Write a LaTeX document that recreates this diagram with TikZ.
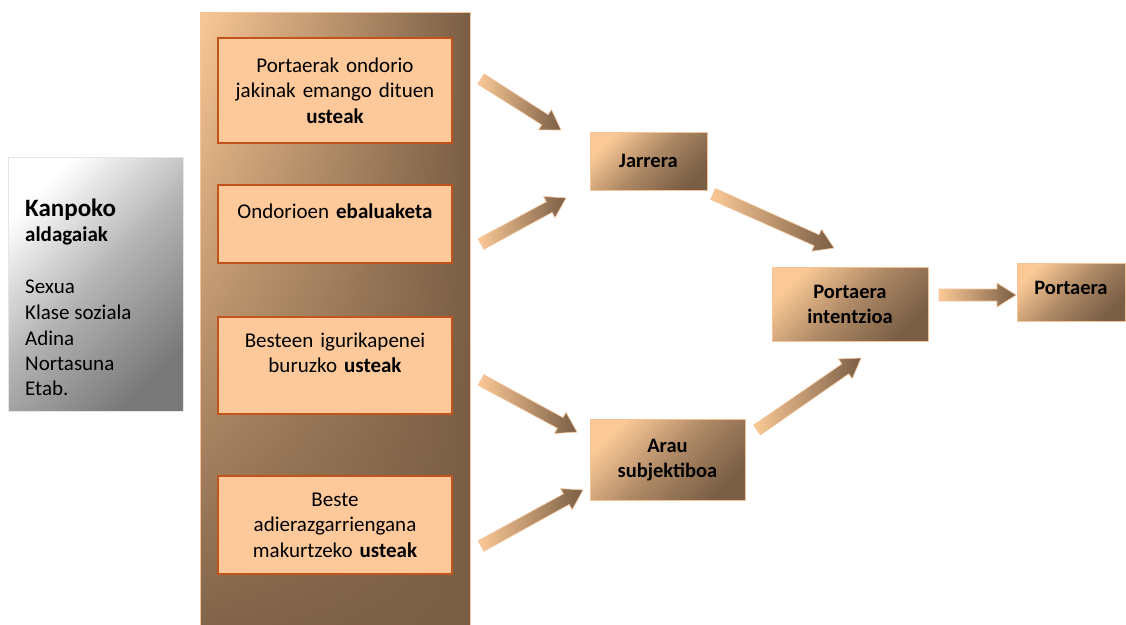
\documentclass[tikz,border=0pt]{standalone}
\usepackage{fontspec}
\setmainfont{Carlito}
\usetikzlibrary{calc,fadings}

\definecolor{peach}{HTML}{FBC996}
\definecolor{umber}{HTML}{7A5E45}
\definecolor{boxfill}{HTML}{FDC99A}
\definecolor{boxline}{HTML}{C0541C}
\definecolor{rim}{HTML}{F6C49A}

\tikzfading[name=fadedown, top color=transparent!100, middle color=transparent!70, bottom color=transparent!5]

% thick shaded block arrow from a named tail point to a named tip point
\newcommand\blockarrow[3]{%
  \path let \p1=($(#3)-(#2)$) in \pgfextra{%
    \pgfmathsetmacro\arrang{atan2(\y1,\x1)}\global\let\arrang\arrang
    \pgfmathsetmacro\arrlen{veclen(\x1,\y1)}\global\let\arrlen\arrlen};
  \begin{scope}[shift={(#2)}, rotate=\arrang]
    \path[flowarrow] (0,-6) -- (\arrlen-19,-6) -- (\arrlen-19,-12) -- (\arrlen,0)
      -- (\arrlen-19,12) -- (\arrlen-19,6) -- (0,6) -- cycle;
    \coordinate (#1) at (\arrlen/2,0);
  \end{scope}}

\begin{document}
\begin{tikzpicture}[x=1pt, y=-1pt,
  font=\fontsize{21}{25.5}\selectfont,
  ibox/.style={draw=boxline, line width=1.3pt, fill=boxfill,
    minimum width=234pt, text width=224pt, align=center, inner sep=0pt},
  gbox/.style={draw=rim, line width=0.8pt, shading=axis, top color=peach,
    bottom color=umber, middle color=umber!60!peach, shading angle=45,
    font=\fontsize{20.5}{25}\selectfont\bfseries, align=center, inner sep=0pt},
  flowarrow/.style={left color=peach, right color=umber, draw=rim, line width=0.6pt},
  listline/.style={anchor=base west, inner sep=0pt}]

\useasboundingbox (0,0) rectangle (1126,624);
\fill[white] (0,0) rectangle (1126,624);

% external variables panel
\node[draw=gray!20, line width=1pt, shading=axis, top color=white,
  bottom color=gray!95!black, middle color=gray!60, shading angle=45,
  minimum width=175pt, minimum height=254pt, inner sep=0pt] (ext) at (95.5,284) {};
\node[listline, font=\fontsize{25}{27}\selectfont\bfseries] (extA) at (25,216) {Kanpoko};
\node[listline, font=\fontsize{21}{25}\selectfont\bfseries] (extB) at (25,241) {aldagaiak};
\foreach \t/\yy [count=\i] in {Sexua/293.5, Klase soziala/319.5, Adina/345, Nortasuna/370.5, Etab./395.5}
  \node[listline] (ext\i) at (25,\yy) {\t};

% belief column
\path[left color=peach, right color=umber] (200,12) rectangle (470,630);
\fill[umber, path fading=fadedown] (200,12) rectangle (470,630);
\draw[rim, line width=1pt] (200,630) -- (200,12) -- (470,12) -- (470,630);

\node[ibox, minimum height=105pt] (b1) at (335,90.5)
  {Portaerak ondorio\\ jakinak emango dituen\\ \textbf{usteak}};
\node[ibox, minimum height=78pt] (b2) at (335,224)
  {Ondorioen \textbf{ebaluaketa}\\ ~};
\node[ibox, minimum height=97pt] (b3) at (335,365.5)
  {Besteen igurikapenei\\ buruzko \textbf{usteak}\\ ~};
\node[ibox, minimum height=98pt] (b4) at (335,525)
  {Beste\\ adierazgarriengana\\ makurtzeko \textbf{usteak}};

% outcome boxes
\node[gbox, minimum width=117pt, minimum height=58pt] (jar) at (648.5,161) {Jarrera};
\node[gbox, minimum width=155pt, minimum height=81pt] (arau) at (667.5,460) {Arau\\ subjektiboa};
\node[gbox, minimum width=156pt, minimum height=74pt] (int) at (850,304) {Portaera\\ intentzioa};
\node[gbox, minimum width=108pt, minimum height=58pt, text depth=9pt] (port) at (1071,292) {Portaera};

% arrow ends
\coordinate (t1) at (481,79);   \coordinate (h1) at (561,130);
\coordinate (t2) at (481,244);  \coordinate (h2) at (566,198);
\coordinate (t3) at (481,380);  \coordinate (h3) at (577,432);
\coordinate (t4) at (481,546);  \coordinate (h4) at (583,490);
\coordinate (t5) at (713,194);  \coordinate (h5) at (834,248);
\coordinate (t6) at (757,430);  \coordinate (h6) at (861,358);
\coordinate (t7) at (939,295);  \coordinate (h7) at (1016,295);

\blockarrow{a1}{t1}{h1}
\blockarrow{a2}{t2}{h2}
\blockarrow{a3}{t3}{h3}
\blockarrow{a4}{t4}{h4}
\blockarrow{a5}{t5}{h5}
\blockarrow{a6}{t6}{h6}
\blockarrow{a7}{t7}{h7}

\end{tikzpicture}
\end{document}
